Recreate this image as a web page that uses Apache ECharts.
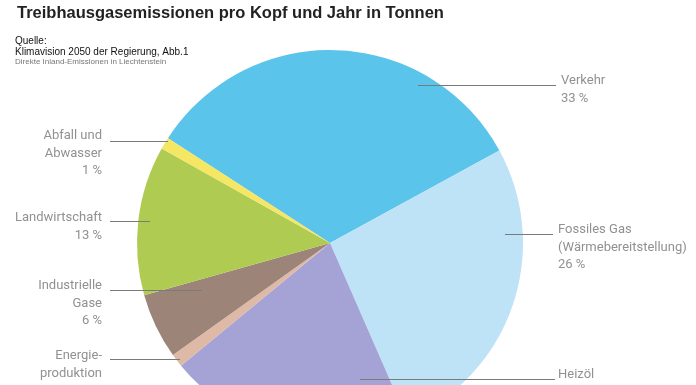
<!DOCTYPE html>
<html>
<head>
<meta charset="utf-8">
<script src="https://cdn.jsdelivr.net/npm/echarts@6/dist/echarts.min.js"></script>
<style>html,body{margin:0;padding:0;background:#fff}#c{width:696px;height:385px}</style>
</head>
<body>
<div id="c"></div>
<script>
// Data (in %)
var categories = ['Verkehr', 'Fossiles Gas\n(Wärmebereitstellung)', 'Heizöl', 'Energie-\nproduktion', 'Industrielle\nGase', 'Landwirtschaft', 'Abfall und\nAbwasser'];
var values = [32.9, 26.4, 20.6, 1.1, 5.5, 12.5, 1.0];
var colors = ['#5bc4ea', '#bee2f6', '#a5a3d5', '#ddb9a6', '#9c8478', '#b0cb51', '#f5e663'];

// Label layout (annotation positions, not data)
var labelLayouts = [
  {side: 'right', x: 561, top: 72,  lineY: 85,  lineFrom: 418, lineTo: 556},
  {side: 'right', x: 558, top: 221, lineY: 234, lineFrom: 505, lineTo: 553},
  {side: 'right', x: 558, top: 366, lineY: 379, lineFrom: 360, lineTo: 555},
  {side: 'left',  x: 102, top: 347, lineY: 359, lineFrom: 180, lineTo: 110},
  {side: 'left',  x: 102, top: 277, lineY: 290, lineFrom: 202, lineTo: 110},
  {side: 'left',  x: 102, top: 209, lineY: 221, lineFrom: 150, lineTo: 110},
  {side: 'left',  x: 102, top: 127, lineY: 141, lineFrom: 168, lineTo: 110}
];

var chart = echarts.init(document.getElementById('c'), null, {renderer: 'canvas'});
chart.setOption({
  animation: false,
  title: [
    {text: 'Treibhausgasemissionen pro Kopf und Jahr in Tonnen', left: 17, top: 5, padding: 0,
     textStyle: {fontFamily: 'Liberation Sans', fontWeight: 'bold', fontSize: 16.5, color: '#222'}},
    {text: 'Quelle:', left: 15, top: 36, padding: 0,
     textStyle: {fontFamily: 'Liberation Sans', fontWeight: 'normal', fontSize: 10, color: '#111'}},
    {text: 'Klimavision 2050 der Regierung, Abb.1', left: 15, top: 47.5, padding: 0,
     textStyle: {fontFamily: 'Liberation Sans', fontWeight: 'normal', fontSize: 10, color: '#111'}},
    {text: 'Direkte Inland-Emissionen in Liechtenstein', left: 15, top: 58, padding: 0,
     textStyle: {fontFamily: 'Liberation Sans', fontWeight: 'normal', fontSize: 8, color: '#777'}}
  ],
  graphic: labelLayouts.map(function (L) {
    return {
      type: 'line', z: 100, silent: true,
      shape: {x1: L.lineFrom, y1: L.lineY + 0.5, x2: L.lineTo, y2: L.lineY + 0.5},
      style: {stroke: '#7a7a7a', lineWidth: 1}
    };
  }),
  series: [{
    type: 'pie',
    center: [330, 243],
    radius: 193,
    startAngle: 147.1,
    clockwise: true,
    silent: true,
    avoidLabelOverlap: false,
    data: categories.map(function (c, i) {
      return {name: c, value: values[i], itemStyle: {color: colors[i]}};
    }),
    label: {
      show: true,
      position: 'outside',
      fontFamily: 'Roboto',
      fontSize: 13,
      lineHeight: 17.5,
      color: '#919191',
      formatter: function (p) {
        if (p.dataIndex === 2) return p.name;
        return p.name + '\n' + Math.round(p.value) + ' %';
      }
    },
    labelLine: {show: false},
    labelLayout: function (params) {
      var L = labelLayouts[params.dataIndex];
      return {
        x: L.x,
        y: L.top,
        align: L.side === 'right' ? 'left' : 'right',
        verticalAlign: 'top'
      };
    }
  }]
});
</script>
</body>
</html>
